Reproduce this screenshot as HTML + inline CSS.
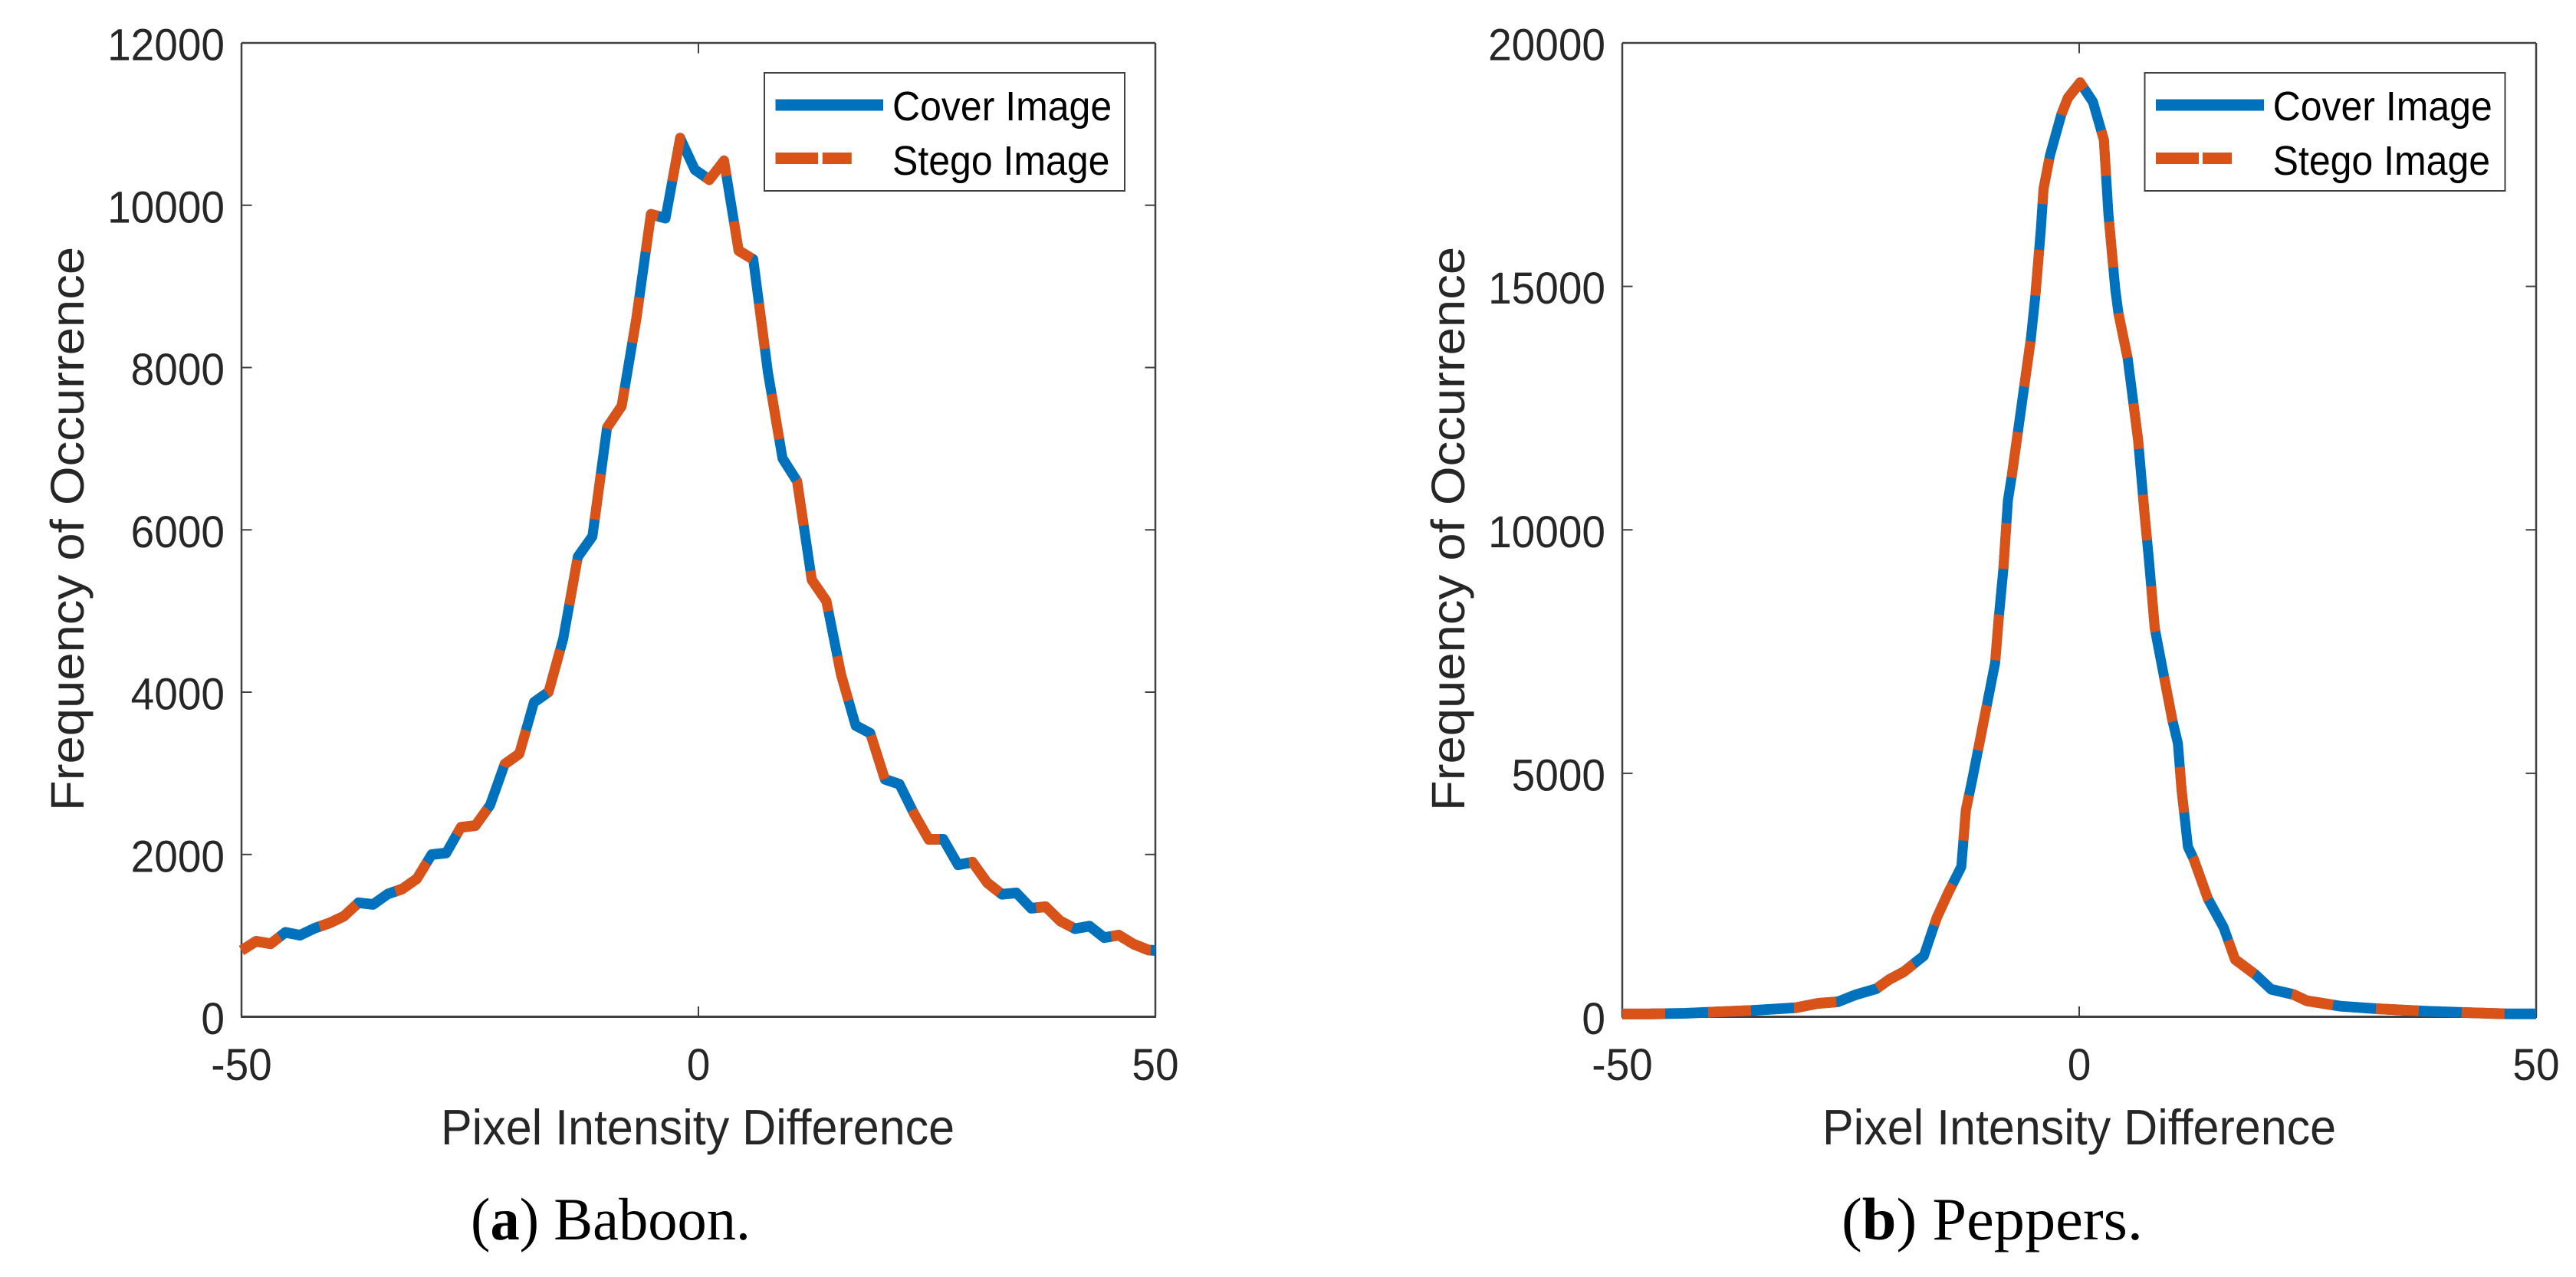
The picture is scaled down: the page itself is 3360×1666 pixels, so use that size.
<!DOCTYPE html>
<html lang="en">
<head>
<meta charset="utf-8">
<title>Pixel Intensity Difference Histograms</title>
<style>
  html, body { margin: 0; padding: 0; background: #fff; width: 3360px; height: 1666px; overflow: hidden; }
  svg { display: block; }
  .tick-label { font-family: "Liberation Sans", sans-serif; font-size: 55px; fill: #262626; }
  .axis-title { font-family: "Liberation Sans", sans-serif; font-size: 61px; fill: #262626; }
  .legend-text { font-family: "Liberation Sans", sans-serif; font-size: 50px; fill: #000; }
  .caption { font-family: "Liberation Serif", serif; font-size: 78px; fill: #000; }
</style>
</head>
<body>
<svg xmlns="http://www.w3.org/2000/svg" width="3360" height="1666" viewBox="0 0 3360 1666">
  <rect x="0" y="0" width="3360" height="1666" fill="#fff"/>

  <g id="panel-a">
    <g id="a-axes"></g>
    <g id="a-lines"></g>
    <text class="axis-title" text-anchor="middle" transform="translate(109,690) scale(1,1.07) rotate(-90)">Frequency of Occurrence</text>
    <text class="axis-title" text-anchor="middle" transform="translate(910,1493) scale(1,1.07)">Pixel Intensity Difference</text>
    <g>
      <rect x="997" y="95" width="470" height="154" fill="#fff" stroke="#404040" stroke-width="2"/>
      <rect x="1011.5" y="129.5" width="140.5" height="15" fill="#0072BD"/>
      <rect x="1011.5" y="199" width="55.5" height="15" fill="#D95319"/>
      <rect x="1072.8" y="199" width="38" height="15" fill="#D95319"/>
      <text class="legend-text" transform="translate(1164,157) scale(1,1.07)">Cover Image</text>
      <text class="legend-text" transform="translate(1164,228) scale(1,1.07)">Stego Image</text>
    </g>
    <text class="caption" x="614" y="1617" textLength="365" lengthAdjust="spacingAndGlyphs">(<tspan font-weight="bold">a</tspan>) Baboon.</text>
  </g>

  <g id="panel-b">
    <g id="b-axes"></g>
    <g id="b-lines"></g>
    <text class="axis-title" text-anchor="middle" transform="translate(1910,690) scale(1,1.07) rotate(-90)">Frequency of Occurrence</text>
    <text class="axis-title" text-anchor="middle" transform="translate(2712,1493) scale(1,1.07)">Pixel Intensity Difference</text>
    <g>
      <rect x="2797.5" y="95" width="470" height="154" fill="#fff" stroke="#404040" stroke-width="2"/>
      <rect x="2812" y="129.5" width="141" height="15" fill="#0072BD"/>
      <rect x="2812" y="199" width="56" height="15" fill="#D95319"/>
      <rect x="2873" y="199" width="38" height="15" fill="#D95319"/>
      <text class="legend-text" transform="translate(2964.6,157) scale(1,1.07)">Cover Image</text>
      <text class="legend-text" transform="translate(2964.6,228) scale(1,1.07)">Stego Image</text>
    </g>
    <text class="caption" x="2402" y="1617" textLength="393" lengthAdjust="spacingAndGlyphs">(<tspan font-weight="bold">b</tspan>) Peppers.</text>
  </g>
</svg>

<script>
// Chart data
const xTickValues = [-50, 0, 50];
const baboonYTicks = [0, 2000, 4000, 6000, 8000, 10000, 12000];
const peppersYTicks = [0, 5000, 10000, 15000, 20000];

const baboonDiff = [-50,-48.4,-46.8,-45.2,-43.6,-42,-40.4,-38.8,-37.2,-35.6,-34,-32.4,-30.8,-29.2,-27.6,-26,
  -24.4,-22.8,-21.2,-19.6,-18,-16.4,-14.8,-13.2,-11.6,-10,-8.4,-6.8,-5.2,-3.6,-2,-0.4,
  1.2,2.8,4.4,6,7.6,9.2,10.8,12.4,14,15.6,17.2,18.8,20.4,22,23.6,25.2,26.8,28.4,30,
  31.6,33.2,34.8,36.4,38,39.6,41.2,42.8,44.4,46,47.6,49.2,50];
const baboonCover = [817,930,900,1040,1005,1091,1153,1238,1405,1384,1512,1575,1702,1998,2018,2334,
  2356,2608,3113,3241,3874,4002,4655,5667,5920,7259,7526,8597,9888,9841,10827,10439,
  10314,10547,9441,9332,7944,6881,6598,5384,5123,4219,3589,3494,2927,2865,2502,2187,2187,1873,1904,
  1652,1510,1526,1337,1356,1179,1085,1117,975,1006,896,824,817];
const baboonStego = [817,930,900,1040,1005,1091,1153,1238,1405,1384,1512,1575,1702,1998,2018,2334,
  2356,2608,3113,3241,3874,4002,4655,5667,5920,7259,7526,8597,9888,9841,10827,10439,
  10314,10547,9441,9332,7944,6881,6598,5384,5123,4219,3589,3494,2927,2865,2502,2187,2187,1873,1904,
  1652,1510,1526,1337,1356,1179,1085,1117,975,1006,896,824,817];

const peppersDiff = [-50,-47.2,-43.1,-35.9,-31,-28.6,-26.4,-24.5,-22.2,-20.8,-19.2,-17,-15.6,-14.3,-12.9,-12.4,-11.7,
  -9.2,-8.8,-8.3,-7.8,-7.4,-6.7,-6,-5.3,-4.8,-4.2,-3.9,-3.2,-1.96,-1.24,0.1,
  1.5,2.7,3.2,3.95,4.3,5.3,6.45,7.2,7.6,8.27,10.2,10.8,11.2,11.9,12.5,14.1,15.8,17.05,
  19.3,21,23.4,24.9,28.6,32.6,37.4,42,46.7,50];
const peppersCover = [58,58,72,129,186,275,307,449,575,763,923,1252,2027,2559,3082,4244,4874,
  7268,8200,9189,10606,11079,12023,12968,13908,14800,16165,17005,17690,18527,18870,19184,
  18790,18010,16480,14937,14441,13527,11840,10226,9451,7976,6087,5614,4669,3488,3252,2417,1835,1178,
  863,564,460,328,217,165,118,87,60,60];
const peppersStego = [58,58,72,129,186,275,307,449,575,763,923,1252,2027,2559,3082,4244,4874,
  7268,8200,9189,10606,11079,12023,12968,13908,14800,16165,17005,17690,18527,18870,19184,
  18790,18010,16480,14937,14441,13527,11840,10226,9451,7976,6087,5614,4669,3488,3252,2417,1835,1178,
  863,564,460,328,217,165,118,87,60,60];

const SVG_NS = 'http://www.w3.org/2000/svg';
const STRETCH = 1.07;
const PLOT_TOP = 56;
const PLOT_BOTTOM = 1326.5;
const AXIS_COLOR = '#404040';
const TICK_LEN = 13.5;

function xScale(panelLeft, panelRight, value) {
  return panelLeft + (value + 50) / 100 * (panelRight - panelLeft);
}
function yScale(yMax, value) {
  return PLOT_BOTTOM - value / yMax * (PLOT_BOTTOM - PLOT_TOP);
}
function linePoints(xs, ys, left, right, yMax) {
  return xs.map(function (x, i) {
    return xScale(left, right, x).toFixed(2) + ',' + (yScale(yMax, ys[i]) / STRETCH).toFixed(2);
  }).join(' ');
}
function axisLine(parent, x1, y1, x2, y2, width) {
  const line = document.createElementNS(SVG_NS, 'line');
  line.setAttribute('x1', x1);
  line.setAttribute('y1', y1);
  line.setAttribute('x2', x2);
  line.setAttribute('y2', y2);
  line.setAttribute('stroke', AXIS_COLOR);
  line.setAttribute('stroke-width', width);
  parent.appendChild(line);
  return line;
}
function tickLabel(parent, x, y, anchor, content) {
  const t = document.createElementNS(SVG_NS, 'text');
  t.setAttribute('class', 'tick-label');
  t.setAttribute('text-anchor', anchor);
  t.setAttribute('transform', 'translate(' + x + ',' + y + ') scale(1,' + STRETCH + ')');
  t.textContent = content;
  parent.appendChild(t);
  return t;
}

function drawPanel(prefix, left, right, xs, cover, stego, yTicks, yMax) {
  const lines = document.getElementById(prefix === 'baboon' ? 'a-lines' : 'b-lines');
  const axes = document.getElementById(prefix === 'baboon' ? 'a-axes' : 'b-axes');

  // Axis box
  const topEdge = axisLine(axes, left, PLOT_TOP, right, PLOT_TOP, 2.5);
  
  
  const bottomEdge = axisLine(axes, left - 1, PLOT_BOTTOM, right + 1, PLOT_BOTTOM, 3);
  
  
  const leftEdge = axisLine(axes, left, PLOT_TOP, left, PLOT_BOTTOM, 2.5);
  
  
  const rightEdge = axisLine(axes, right, PLOT_TOP, right, PLOT_BOTTOM, 2.5);
  
  

  // X ticks
  xTickValues.forEach(function (v) {
    const px = xScale(left, right, v);
    const lower = axisLine(axes, px, PLOT_BOTTOM, px, PLOT_BOTTOM - TICK_LEN, 2);
    
    
    const upper = axisLine(axes, px, PLOT_TOP, px, PLOT_TOP + TICK_LEN, 2);
    
    
    const label = tickLabel(axes, px, 1409, 'middle', String(v));
    
    
  });

  // Y ticks
  yTicks.forEach(function (v) {
    const py = yScale(yMax, v);
    const inner = axisLine(axes, left, py, left + TICK_LEN, py, 2);
    
    
    const outer = axisLine(axes, right, py, right - TICK_LEN, py, 2);
    
    
    const label = tickLabel(axes, left - 22, py + 22.5, 'end', String(v));
    
    
  });

  // Series
  const group = document.createElementNS(SVG_NS, 'g');
  group.setAttribute('transform', 'scale(1,' + STRETCH + ')');
  lines.appendChild(group);

  const coverLine = document.createElementNS(SVG_NS, 'polyline');
  coverLine.setAttribute('points', linePoints(xs, cover, left, right, yMax));
  coverLine.setAttribute('fill', 'none');
  coverLine.setAttribute('stroke', '#0072BD');
  coverLine.setAttribute('stroke-width', '13');
  coverLine.setAttribute('stroke-linejoin', 'round');
  
  
  group.appendChild(coverLine);

  const stegoLine = document.createElementNS(SVG_NS, 'polyline');
  stegoLine.setAttribute('points', linePoints(xs, stego, left, right, yMax));
  stegoLine.setAttribute('fill', 'none');
  stegoLine.setAttribute('stroke', '#D95319');
  stegoLine.setAttribute('stroke-width', '13');
  stegoLine.setAttribute('stroke-linejoin', 'round');
  stegoLine.setAttribute('stroke-dasharray', '56 56');
  
  
  group.appendChild(stegoLine);
}

drawPanel('baboon', 315, 1507, baboonDiff, baboonCover, baboonStego, baboonYTicks, 12000);
drawPanel('peppers', 2116, 3308, peppersDiff, peppersCover, peppersStego, peppersYTicks, 20000);
</script>
</body>
</html>
